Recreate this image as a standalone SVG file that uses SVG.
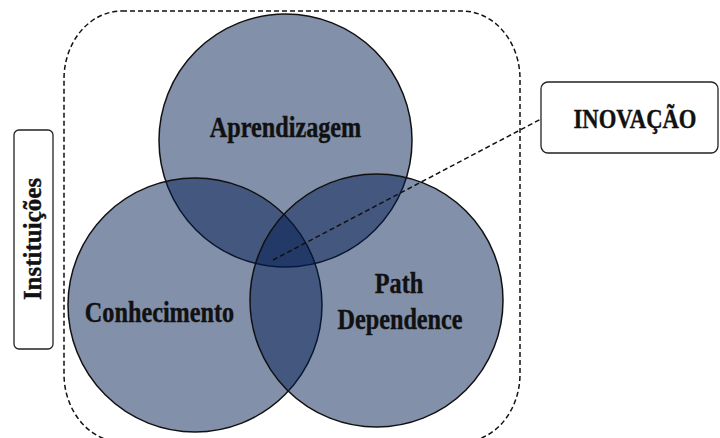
<svg xmlns="http://www.w3.org/2000/svg" width="720" height="438" viewBox="0 0 720 438">
  <style>
    .set { fill: rgb(3,29,82); fill-opacity: 0.49; stroke: #111; stroke-width: 1.5; }
    .lbl { font-family: "Liberation Serif", "Times New Roman", serif; font-weight: bold; fill: #111; stroke: #111; stroke-width: 0.4; text-anchor: middle; }
    .box { fill: #fff; stroke: #222; stroke-width: 1.3; }
    .dash { fill: none; stroke: #111; stroke-width: 1.5; stroke-dasharray: 5 3; }
  </style>
  <rect width="720" height="438" fill="#fff"/>

  <!-- institutional frame -->
  <g id="frame">
    <rect class="dash" x="64" y="11" width="456" height="431" rx="58" ry="68"/>
  </g>

  <g id="instituicoes">
    <rect class="box" x="14" y="130" width="39" height="219" rx="5"/>
    <text class="lbl" font-size="25" transform="translate(41 239) rotate(-90)">Instituições</text>
  </g>

  <g id="aprendizagem">
    <circle class="set" cx="285.5" cy="140.5" r="126.5"/>
  </g>
  <g id="conhecimento">
    <circle class="set" cx="195" cy="305" r="127"/>
  </g>
  <g id="path-dependence">
    <circle class="set" cx="376.5" cy="300.5" r="126.5"/>
  </g>

  <!-- set labels drawn above all fills -->
  <g id="labels">
    <text class="lbl" font-size="28.5" transform="translate(285.5 137) scale(0.85 1)">Aprendizagem</text>
    <text class="lbl" font-size="28.5" transform="translate(159.5 322) scale(0.85 1)">Conhecimento</text>
    <text class="lbl" font-size="28.5" transform="translate(399 293) scale(0.85 1)">Path</text>
    <text class="lbl" font-size="28.5" transform="translate(400 329) scale(0.85 1)">Dependence</text>
  </g>

  <g id="inovacao">
    <rect class="box" x="541" y="82" width="177" height="71" rx="7"/>
    <text class="lbl" font-size="27" transform="translate(635 128) scale(0.84 1)">INOVAÇÃO</text>
  </g>

  <g id="connectors">
    <line class="dash" x1="273" y1="260" x2="541" y2="119"/>
  </g>
</svg>
